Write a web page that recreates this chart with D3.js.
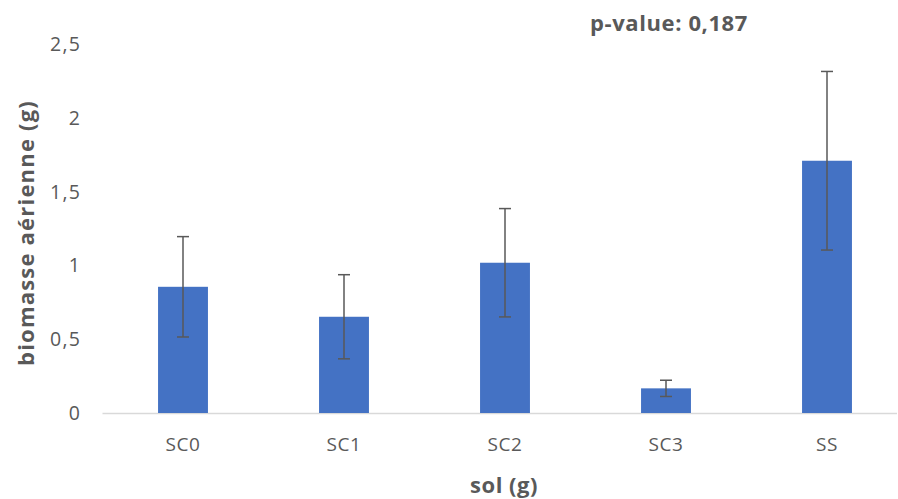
<!DOCTYPE html>
<html><head><meta charset="utf-8">
<script src="https://cdn.jsdelivr.net/npm/d3@7"></script>
<style>
html,body{margin:0;padding:0;background:#fff;}
svg{display:block;}
text{font-family:"Open Sans",Lato,sans-serif;}
</style></head>
<body>
<svg id="chart" width="898" height="499"></svg>
<script>
const categories = ["SC0", "SC1", "SC2", "SC3", "SS"];
const means = [0.855, 0.652, 1.018, 0.167, 1.709];
const errors = [0.34, 0.285, 0.367, 0.055, 0.605];
const yTicks = [0, 0.5, 1, 1.5, 2, 2.5];
const yTickLabels = ["0", "0,5", "1", "1,5", "2", "2,5"];
const pValueText = "p-value: 0,187";
const xTitle = "sol (g)";
const yTitle = "biomasse aérienne (g)";

(function () {
const svg = d3.select("#chart");
const W = 898;
const mLeft = 102.5, mRight = 907.5, mTop = 44, mBottom = 413;

const x = d3.scaleBand().domain(categories).range([mLeft, mRight])
  .paddingInner(0.69).paddingOuter(0.345);
const y = d3.scaleLinear().domain([0, 2.5]).range([mBottom, mTop]);

const textColor = "#595959";

// baseline
svg.append("line")
  .attr("x1", mLeft).attr("x2", W - 1)
  .attr("y1", y(0) + 0.5).attr("y2", y(0) + 0.5)
  .attr("stroke", "#d9d9d9").attr("stroke-width", 1.5);

// y tick labels
svg.append("g").selectAll("text").data(yTicks).join("text")
  .attr("x", 81).attr("y", d => y(d))
  .attr("dy", "0.36em")
  .attr("text-anchor", "end")
  .attr("font-size", 19.5).attr("fill", textColor)
  .attr("letter-spacing", 1.2)
  .text((d, i) => yTickLabels[i]);

// bars
svg.append("g").selectAll("rect").data(categories).join("rect")
  .attr("x", d => x(d)).attr("width", x.bandwidth())
  .attr("y", (d, i) => y(means[i]))
  .attr("height", (d, i) => y(0) - y(means[i]))
  .attr("fill", "#4472C4");

// error bars
const eb = svg.append("g").attr("stroke", "#595959").attr("stroke-width", 1.5);
categories.forEach((c, i) => {
  const cx = x(c) + x.bandwidth() / 2;
  const y1 = y(means[i] + errors[i]), y2 = y(means[i] - errors[i]);
  eb.append("line").attr("x1", cx).attr("x2", cx).attr("y1", y1).attr("y2", y2);
  eb.append("line").attr("x1", cx - 6).attr("x2", cx + 6).attr("y1", y1).attr("y2", y1);
  eb.append("line").attr("x1", cx - 6).attr("x2", cx + 6).attr("y1", y2).attr("y2", y2);
});

// x labels
svg.append("g").selectAll("text").data(categories).join("text")
  .attr("x", d => x(d) + x.bandwidth() / 2).attr("y", 451)
  .attr("text-anchor", "middle")
  .attr("font-size", 19).attr("fill", textColor)
  .attr("letter-spacing", 0.6)
  .text(d => d);

// x title
svg.append("text").attr("x", 504).attr("y", 493)
  .attr("text-anchor", "middle").attr("font-size", 22).attr("font-weight", "bold")
  .attr("letter-spacing", 0.5)
  .attr("fill", textColor).text(xTitle);

// y title
svg.append("text").attr("transform", "translate(34,233) rotate(-90)")
  .attr("text-anchor", "middle").attr("font-size", 22).attr("font-weight", "bold")
  .attr("letter-spacing", 1.2)
  .attr("fill", textColor).text(yTitle);

// p-value annotation
svg.append("text").attr("x", 669).attr("y", 31)
  .attr("text-anchor", "middle").attr("font-size", 22).attr("font-weight", "bold")
  .attr("letter-spacing", 0.6)
  .attr("fill", textColor).text(pValueText);
})();
</script>
</body></html>
